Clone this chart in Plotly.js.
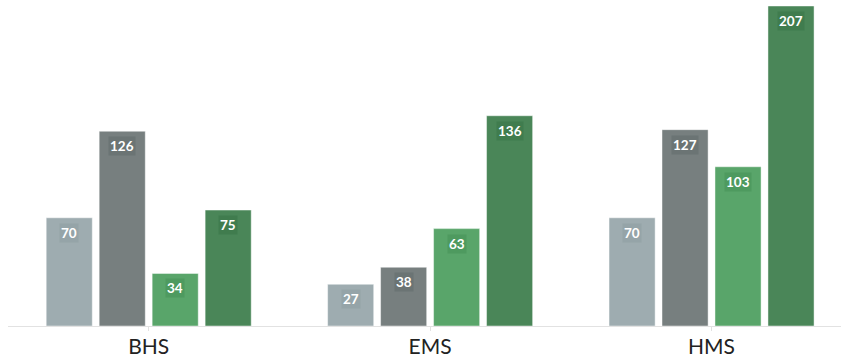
<!DOCTYPE html>
<html>
<head>
<meta charset="utf-8">
<script src="https://cdn.plot.ly/plotly-3.0.1.min.js"></script>
<style>
  html, body { margin: 0; padding: 0; background: #ffffff; }
  #chart { width: 841px; height: 360px; }
</style>
</head>
<body>
<div id="chart"></div>
<script>
// School groups on the x axis
const categories = ['BHS', 'EMS', 'HMS'];

// Four series per group
const seriesA = [70, 27, 70];
const seriesB = [126, 38, 127];
const seriesC = [34, 63, 103];
const seriesD = [75, 136, 207];

const seriesValues = [seriesA, seriesB, seriesC, seriesD];
const seriesColors = ['#9eacb0', '#777f7f', '#59a56a', '#4a8658'];
const labelBgColors = ['rgba(120,135,140,0.22)', 'rgba(70,78,78,0.22)', 'rgba(40,120,60,0.22)', 'rgba(30,90,45,0.22)'];

const traces = seriesValues.map((vals, i) => ({
  type: 'bar',
  x: categories,
  y: vals,
  marker: {
    color: seriesColors[i],
    line: { color: 'rgba(255,255,255,0.45)', width: 1 }
  },
  offsetgroup: String(i),
  hoverinfo: 'none',
  showlegend: false
}));

// Value labels sit just inside the top of each bar
const nSeries = seriesValues.length;
const annotations = [];
seriesValues.forEach((vals, i) => {
  vals.forEach((v, j) => {
    annotations.push({
      x: j,
      y: v,
      xref: 'x',
      yref: 'y',
      text: '<b>' + v + '</b>',
      showarrow: false,
      yanchor: 'top',
      yshift: -5,
      xshift: (i - (nSeries - 1) / 2) * 53,
      font: { family: 'Lato, "Open Sans", sans-serif', size: 13.5, color: '#ffffff' },
      bgcolor: labelBgColors[i],
      borderpad: 1
    });
  });
});

const layout = {
  width: 841,
  height: 360,
  margin: { l: 8, r: 0, t: 6, b: 34 },
  paper_bgcolor: '#ffffff',
  plot_bgcolor: '#ffffff',
  barmode: 'group',
  bargap: 0.247,
  bargroupgap: 0.13,
  xaxis: {
    type: 'category',
    range: [-0.5, 2.46],
    showline: true,
    linecolor: '#e2e2e2',
    linewidth: 1,
    ticks: 'outside',
    ticklen: 4,
    tickcolor: '#e2e2e2',
    ticklabelstandoff: -2,
    tickfont: { family: 'Lato, "Open Sans", sans-serif', size: 21, color: '#222222' },
    showgrid: false,
    zeroline: false,
    fixedrange: true
  },
  yaxis: {
    range: [0, 207],
    visible: false,
    showgrid: false,
    zeroline: false,
    fixedrange: true
  },
  annotations: annotations
};

Plotly.newPlot('chart', traces, layout, { displayModeBar: false, staticPlot: true });
</script>
</body>
</html>
